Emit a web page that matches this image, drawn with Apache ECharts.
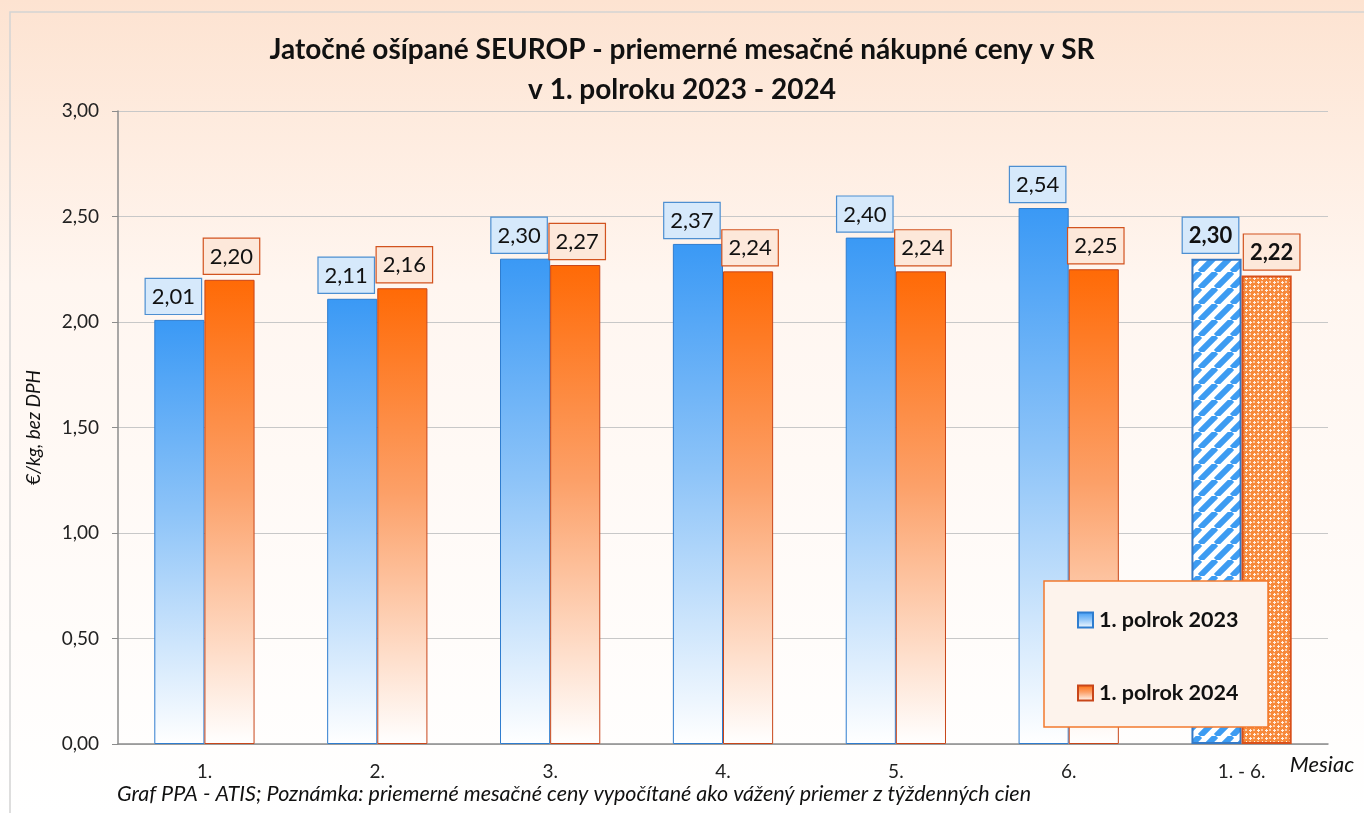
<!DOCTYPE html>
<html>
<head>
<meta charset="utf-8">
<script src="https://cdn.jsdelivr.net/npm/echarts@6/dist/echarts.min.js"></script>
<style>
  html, body { margin: 0; padding: 0; background: #fff; }
  #chart { width: 1364px; height: 813px; }
</style>
</head>
<body>
<div id="chart"></div>
<script>
// data
const months = ['1.', '2.', '3.', '4.', '5.', '6.', '1. - 6.'];
const h2023 = [2.01, 2.11, 2.30, 2.37, 2.40, 2.54, 2.30];
const h2024 = [2.20, 2.16, 2.27, 2.24, 2.24, 2.25, 2.22];
const seriesNames = ['1. polrok 2023', '1. polrok 2024'];

const FONT = 'Lato, "Open Sans", sans-serif';
const fmt = v => v.toFixed(2).replace('.', ',');

// patterns for the half-year average bars
function stripes() {
  const c = document.createElement('canvas');
  c.width = 16; c.height = 16;
  const g = c.getContext('2d');
  g.fillStyle = '#ffffff';
  g.fillRect(0, 0, 16, 16);
  g.strokeStyle = '#3d9cf2';
  g.lineWidth = 6;
  for (let k = -16; k <= 32; k += 16) {
    g.beginPath();
    g.moveTo(k - 16, 16);
    g.lineTo(k, 0);
    g.stroke();
  }
  return c;
}
function lattice() {
  const c = document.createElement('canvas');
  c.width = 8; c.height = 8;
  const g = c.getContext('2d');
  g.fillStyle = '#f7893a';
  g.fillRect(0, 0, 8, 8);
  g.fillStyle = '#fff2e8';
  // small white crosses, offset on the diagonal
  [[2, 2], [6, 6]].forEach(([x, y]) => {
    g.fillRect(x - 1, y, 3, 1);
    g.fillRect(x, y - 1, 1, 3);
  });
  g.fillStyle = '#fcc9a3';
  [[6, 2], [2, 6]].forEach(([x, y]) => g.fillRect(x - 1, y - 1, 2, 2));
  return c;
}

const blueGrad = new echarts.graphic.LinearGradient(0, 0, 0, 1, [
  { offset: 0, color: '#3a99f5' },
  { offset: 0.45, color: '#8cc3f8' },
  { offset: 1, color: '#ffffff' }
]);
const orangeGrad = new echarts.graphic.LinearGradient(0, 0, 0, 1, [
  { offset: 0, color: '#ff6a06' },
  { offset: 0.45, color: '#fca068' },
  { offset: 1, color: '#ffffff' }
]);

function labelFor(bg, border, bold, dx) {
  return {
    show: true,
    position: 'top',
    distance: 6,
    offset: [dx, 0],
    fontFamily: FONT,
    fontSize: 22,
    fontWeight: bold ? 'bold' : 'normal',
    color: '#111',
    backgroundColor: bg,
    borderColor: border,
    borderWidth: 1.2,
    padding: [7, 6, 6, 6],
    formatter: p => fmt(p.value)
  };
}

function buildData(values, pattern, patBorder, bg, border, dx) {
  return values.map((v, i) => {
    if (i < values.length - 1) return v;
    return {
      value: v,
      itemStyle: { color: { image: pattern, repeat: 'repeat' }, borderColor: patBorder, borderWidth: 2 },
      label: labelFor(bg, border, true, dx)
    };
  });
}

const chart = echarts.init(document.getElementById('chart'));

const option = {
  backgroundColor: new echarts.graphic.LinearGradient(0, 0, 0, 1, [
    { offset: 0, color: '#fde3d1' },
    { offset: 0.35, color: '#fff6f0' },
    { offset: 1, color: '#ffffff' }
  ]),
  animation: false,
  title: {
    text: 'Jatočné ošípané SEUROP - priemerné mesačné nákupné ceny v SR\nv 1. polroku 2023 - 2024',
    left: 'center',
    top: 25,
    textStyle: { fontFamily: FONT, fontSize: 28, fontWeight: 'bold', color: '#111', lineHeight: 40 }
  },
  legend: {
    orient: 'vertical',
    left: 1072,
    top: 604,
    z: 10,
    itemGap: 51,
    itemWidth: 15,
    itemHeight: 15,
    icon: 'rect',
    data: seriesNames,
    textStyle: { fontFamily: FONT, fontSize: 21.5, fontWeight: 'bold', color: '#111', padding: [0, 0, 0, 1] }
  },
  grid: { left: 118, right: 36, top: 111, bottom: 69 },
  xAxis: {
    type: 'category',
    data: months,
    axisLine: { lineStyle: { color: '#8c8c8c', width: 1.5 } },
    axisTick: { show: false },
    axisLabel: { fontFamily: FONT, fontSize: 19, color: '#222', margin: 18 }
  },
  yAxis: {
    type: 'value',
    min: 0,
    max: 3,
    interval: 0.5,
    name: '€/kg, bez DPH',
    nameLocation: 'middle',
    nameGap: 75,
    nameTextStyle: { fontFamily: FONT, fontSize: 19, fontStyle: 'italic', color: '#111' },
    axisLine: { show: true, lineStyle: { color: '#8c8c8c', width: 1.5 } },
    axisTick: { show: true, length: 6, lineStyle: { color: '#8c8c8c' } },
    splitLine: { lineStyle: { color: '#c8c8c8', width: 1.2 } },
    axisLabel: { fontFamily: FONT, fontSize: 19, color: '#222', margin: 19, formatter: v => fmt(v) }
  },
  series: [
    {
      name: seriesNames[0],
      type: 'bar',
      barGap: '0%',
      barCategoryGap: '42%',
      data: buildData(h2023, stripes(), '#3579c6', '#d6e9fb', '#4d8fd1', -6),
      itemStyle: { color: blueGrad, borderColor: '#2f7dcf', borderWidth: 1 },
      label: labelFor('#d6e9fb', '#4d8fd1', false, -6),
      z: 2
    },
    {
      name: seriesNames[1],
      type: 'bar',
      data: buildData(h2024, lattice(), '#d9501a', '#fde8da', '#d2531f', 5),
      itemStyle: { color: orangeGrad, borderColor: '#c8461a', borderWidth: 1 },
      label: labelFor('#fde8da', '#d2531f', false, 2),
      z: 2
    }
  ],
  graphic: [
    {
      type: 'rect',
      shape: { x: 10, y: 12, width: 1370, height: 820 },
      style: { fill: null, stroke: '#d4d4d4', lineWidth: 1.5 },
      silent: true, z: -1
    },
    {
      type: 'rect',
      shape: { x: 1044, y: 581, width: 224, height: 146 },
      style: { fill: '#fdf3ec', stroke: '#f27a2e', lineWidth: 1.5 },
      z: 3
    },
    {
      type: 'text',
      x: 1322, y: 765,
      style: { text: 'Mesiac', fontFamily: FONT, fontSize: 22, fontStyle: 'italic', fill: '#111', align: 'center', verticalAlign: 'middle' }
    },
    {
      type: 'text',
      x: 117, y: 794,
      style: { text: 'Graf PPA - ATIS; Poznámka: priemerné mesačné ceny vypočítané ako vážený priemer z týždenných cien', fontFamily: FONT, fontSize: 21.5, fontStyle: 'italic', fill: '#111', align: 'left', verticalAlign: 'middle' }
    }
  ]
};

chart.setOption(option);
</script>
</body>
</html>
